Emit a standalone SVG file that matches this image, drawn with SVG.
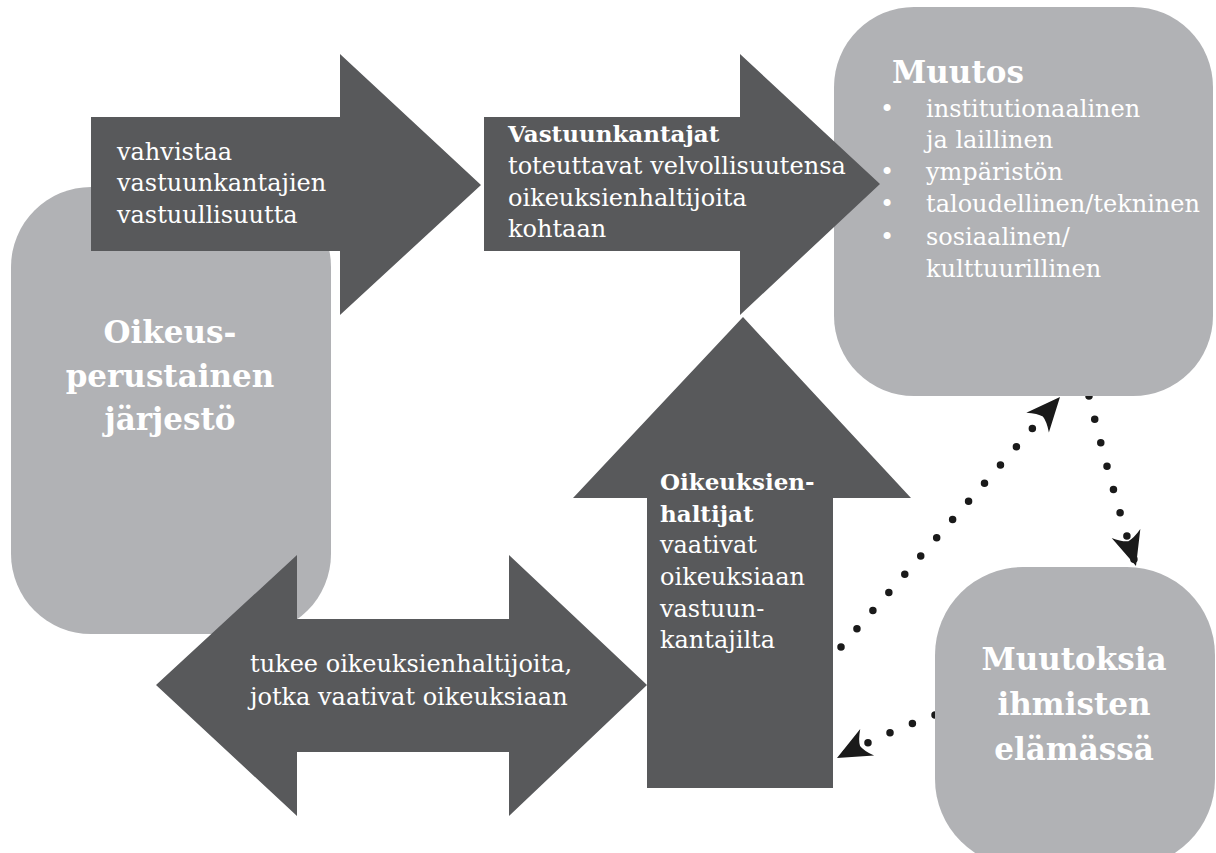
<svg xmlns="http://www.w3.org/2000/svg" width="1216" height="853" viewBox="0 0 1216 853">
<style>
.light{fill:#b1b2b5}
.dark{fill:#58595b}
text{font-family:"DejaVu Serif","Liberation Serif",serif;fill:#ffffff}
.t{font-size:24px}
.b{font-size:23px;font-weight:bold}
.h{font-size:31px;font-weight:bold}
.dots{fill:none;stroke:#1a1a1a;stroke-width:7.5;stroke-linecap:round;stroke-dasharray:0 24.2}
</style>
<defs>
<marker id="ah" markerUnits="userSpaceOnUse" orient="auto" viewBox="-40 -20 44 40" refX="0" refY="0" markerWidth="44" markerHeight="40">
<path d="M0,0 L-34,-15 Q-27,-6 -26,0 Q-27,6 -34,15 Z" fill="#1a1a1a"/>
</marker>
</defs>
<rect width="1216" height="853" fill="#ffffff"/>
<g id="connectors">
<path class="dots" d="M841,647 L1060,397" marker-end="url(#ah)"/>
<path class="dots" d="M1089,396 Q1108,475 1136,566" marker-end="url(#ah)"/>
<path class="dots" d="M935,715 Q885,733 837,758" marker-end="url(#ah)"/>
</g>
<g id="org">
<rect class="light" x="11" y="187" width="320" height="447" rx="80" ry="80"/>
<text class="h" x="170" y="343" text-anchor="middle">Oikeus-</text>
<text class="h" x="170" y="387" text-anchor="middle">perustainen</text>
<text class="h" x="170" y="430" text-anchor="middle">järjestö</text>
</g>
<g id="muutos">
<rect class="light" x="834" y="7" width="379" height="389" rx="80" ry="80"/>
<text class="h" x="892" y="83">Muutos</text>
<text class="t" x="880" y="117">•</text>
<text class="t" x="880" y="180">•</text>
<text class="t" x="880" y="212">•</text>
<text class="t" x="880" y="245">•</text>
<text class="t" x="926" y="117">institutionaalinen</text>
<text class="t" x="926" y="148">ja laillinen</text>
<text class="t" x="926" y="180">ympäristön</text>
<text class="t" x="926" y="212">taloudellinen/tekninen</text>
<text class="t" x="926" y="245">sosiaalinen/</text>
<text class="t" x="926" y="277">kulttuurillinen</text>
</g>
<g id="elama">
<rect class="light" x="935" y="567" width="280" height="300" rx="88" ry="88"/>
<text class="h" x="1074" y="670" text-anchor="middle">Muutoksia</text>
<text class="h" x="1074" y="715" text-anchor="middle">ihmisten</text>
<text class="h" x="1074" y="760" text-anchor="middle">elämässä</text>
</g>
<g id="arrow1">
<polygon class="dark" points="91,117 340,117 340,54 481,185 340,315 340,251 91,251"/>
<text class="t" x="117" y="160">vahvistaa</text>
<text class="t" x="117" y="191">vastuunkantajien</text>
<text class="t" x="117" y="223">vastuullisuutta</text>
</g>
<g id="arrow2">
<polygon class="dark" points="484,117 740,117 740,54 880,184 740,315 740,251 484,251"/>
<text class="b" x="508" y="142">Vastuunkantajat</text>
<text class="t" x="508" y="174">toteuttavat velvollisuutensa</text>
<text class="t" x="508" y="206">oikeuksienhaltijoita</text>
<text class="t" x="508" y="237">kohtaan</text>
</g>
<g id="arrow-up">
<polygon class="dark" points="743,317 911,498 833,498 833,788 647,788 647,498 573,498"/>
<text class="b" x="660" y="490">Oikeuksien-</text>
<text class="b" x="660" y="522">haltijat</text>
<text class="t" x="660" y="553">vaativat</text>
<text class="t" x="660" y="585">oikeuksiaan</text>
<text class="t" x="660" y="617">vastuun-</text>
<text class="t" x="660" y="648">kantajilta</text>
</g>
<g id="arrow-both">
<polygon class="dark" points="156,685 297,555 297,619 509,619 509,555 647,685 509,816 509,752 297,752 297,816"/>
<text class="t" x="250" y="672">tukee oikeuksienhaltijoita,</text>
<text class="t" x="250" y="705">jotka vaativat oikeuksiaan</text>
</g>
</svg>
